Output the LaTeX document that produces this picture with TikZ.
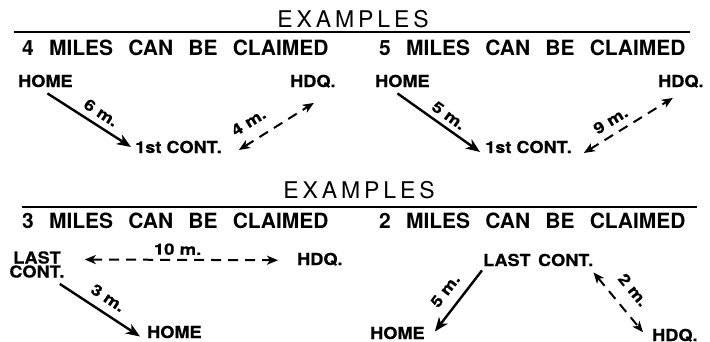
\documentclass[tikz,border=0pt]{standalone}
\usepackage{fontspec}
\setmainfont{TeX Gyre Heros}
\newfontfamily\titlefont[LetterSpace=17]{TeX Gyre Heros}
\newfontfamily\headfont[WordSpace=2.6]{TeX Gyre Heros}
\newfontfamily\lblfont[FakeStretch=1.1, FakeBold=0.3]{TeX Gyre Heros}
\newfontfamily\distfont[FakeStretch=1.2, FakeBold=0.3]{TeX Gyre Heros}
\usetikzlibrary{arrows.meta}
\tikzset{
  title/.style={font=\titlefont\fontsize{23}{23}\selectfont, inner sep=0pt, anchor=base},
  head/.style={font=\headfont\bfseries\fontsize{21}{21}\selectfont, inner sep=0pt, anchor=base west},
  place/.style={font=\lblfont\bfseries\fontsize{16.5}{14}\selectfont, inner sep=0pt, anchor=base west},
  dist/.style={font=\distfont\bfseries\fontsize{15.5}{15.5}\selectfont, inner sep=0pt, sloped},
  rule/.style={line width=1.4pt},
  solidarrow/.style={line width=2.4pt, -{Stealth[length=14pt,width=11pt,inset=4pt]}},
  solidback/.style={line width=2.4pt, {Stealth[length=14pt,width=11pt,inset=4pt]}-},
  dasharrow/.style={line width=2pt, dash pattern=on 10pt off 7pt,
    {Stealth[length=11pt,width=9pt,inset=3pt]}-{Stealth[length=11pt,width=9pt,inset=3pt]}},
}
\begin{document}
\begin{tikzpicture}[x=1pt,y=-1pt]
\useasboundingbox (0,0) rectangle (710,341);

% ---- upper pair of examples
\node[title] (ex1) at (353,27) {EXAMPLES};
\draw[rule] (14,32) -- (690,32);
\node[head] (h4) at (22,55) {4 MILES CAN BE CLAIMED};
\node[head] (h5) at (379,55) {5 MILES CAN BE CLAIMED};

\node[place] (home1) at (18,87) {HOME};
\node[place] (hdq1) at (290,87) {HDQ.};
\node[place] (cont1) at (135,153) {1st CONT.};
\draw[solidarrow] ([shift={(2pt,-6pt)}]home1.south) -- ([xshift=-4pt]cont1.west)
  node[dist, pos=0.56, above=6pt] {6 m.};
\draw[dasharrow] ([shift={(17pt,-3pt)}]cont1.east) -- ([shift={(1pt,-15pt)}]hdq1.south)
  node[dist, pos=0.26, above=12pt] {4 m.};

\node[place] (home2) at (375,87) {HOME};
\node[place] (hdq2) at (658,87) {HDQ.};
\node[place] (cont2) at (485,153) {1st CONT.};
\draw[solidarrow] ([shift={(-5pt,-6pt)}]home2.south) -- ([shift={(-5pt,-5pt)}]cont2.west)
  node[dist, pos=0.54, above=5pt] {5 m.};
\draw[dasharrow] ([shift={(12pt,-6pt)}]cont2.east) -- ([shift={(-8pt,-10pt)}]hdq2.south)
  node[dist, pos=0.38, above=7pt] {9 m.};

% ---- lower pair of examples
\node[title] (ex2) at (359,198) {EXAMPLES};
\draw[rule] (22,207) -- (697,207);
\node[head] (h3) at (22,228) {3 MILES CAN BE CLAIMED};
\node[head] (h2) at (379,228) {2 MILES CAN BE CLAIMED};

\node[place, anchor=center, align=center] (last1) at (37,264.5) {LAST\\CONT.};
\node[place] (hdq3) at (297,265) {HDQ.};
\node[place] (home3) at (147,338) {HOME};
\draw[dasharrow] ([shift={(20pt,5pt)}]last1.east) -- ([shift={(-19pt,-1pt)}]hdq3.west)
  node[dist, pos=0.48, above=4pt] {10 m.};
\draw[solidarrow] ([shift={(-5pt,-6pt)}]last1.south east) -- ([shift={(-7pt,-4.5pt)}]home3.west)
  node[dist, pos=0.5, above=8pt] {3 m.};

\node[place] (last2) at (483,266) {LAST\hspace{0.45em}CONT.};
\node[place] (home4) at (370,339) {HOME};
\node[place] (hdq4) at (652,341) {HDQ.};
\draw[solidback] ([shift={(10pt,1.5pt)}]home4.east) -- ([shift={(-1pt,-4pt)}]last2.south west)
  node[dist, pos=0.5, above=10pt] {5 m.};
\draw[dasharrow] ([shift={(0pt,-6pt)}]last2.south east) -- ([shift={(-9pt,3pt)}]hdq4.west)
  node[dist, pos=0.5, above=13pt] {2 m.};
\end{tikzpicture}
\end{document}
